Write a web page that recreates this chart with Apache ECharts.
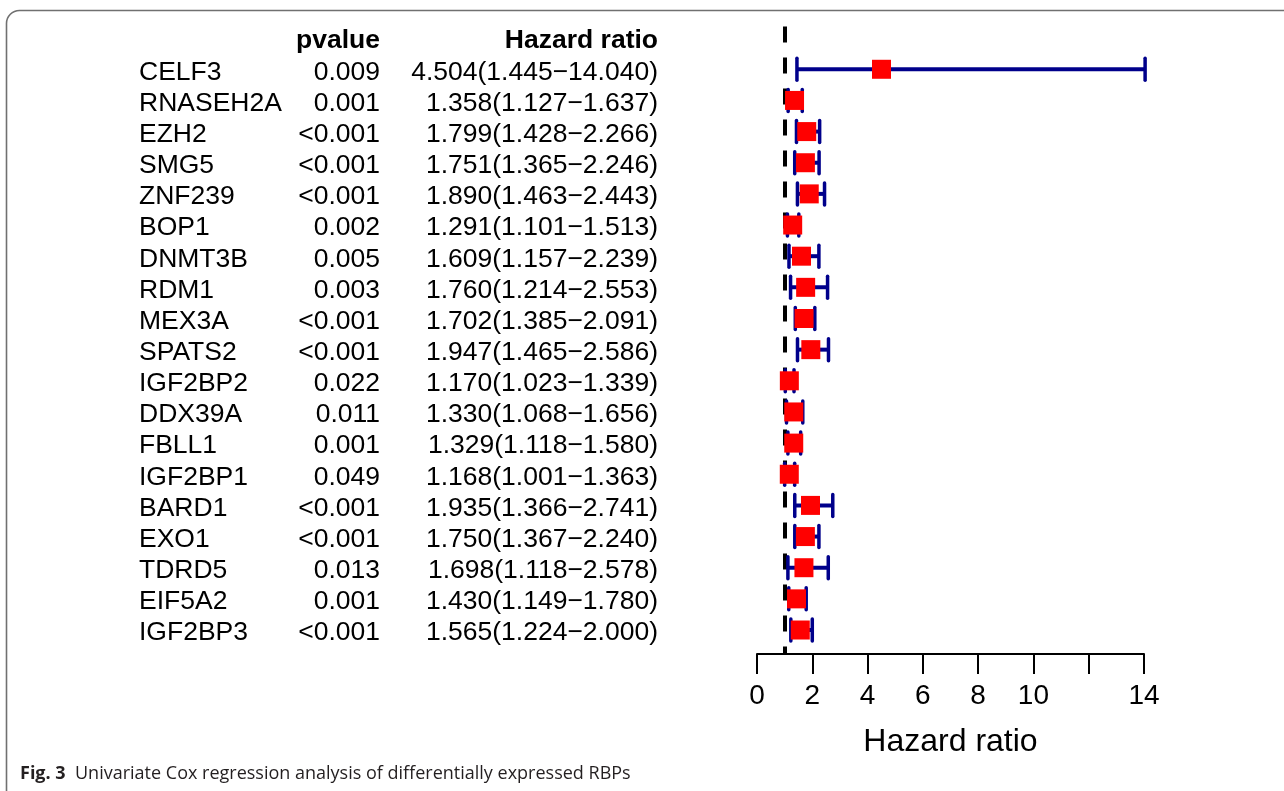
<!DOCTYPE html>
<html>
<head>
<meta charset="utf-8">
<script src="https://cdn.jsdelivr.net/npm/echarts@6/dist/echarts.min.js"></script>
<style>
html,body{margin:0;padding:0;background:#fff;}
#chart{width:1284px;height:791px;}
</style>
</head>
<body>
<div id="chart"></div>
<script>
const genes = ['CELF3','RNASEH2A','EZH2','SMG5','ZNF239','BOP1','DNMT3B','RDM1','MEX3A','SPATS2','IGF2BP2','DDX39A','FBLL1','IGF2BP1','BARD1','EXO1','TDRD5','EIF5A2','IGF2BP3'];
const pvalues = ['0.009','0.001','<0.001','<0.001','<0.001','0.002','0.005','0.003','<0.001','<0.001','0.022','0.011','0.001','0.049','<0.001','<0.001','0.013','0.001','<0.001'];
const hr = [4.504,1.358,1.799,1.751,1.890,1.291,1.609,1.760,1.702,1.947,1.170,1.330,1.329,1.168,1.935,1.750,1.698,1.430,1.565];
const hrLow = [1.445,1.127,1.428,1.365,1.463,1.101,1.157,1.214,1.385,1.465,1.023,1.068,1.118,1.001,1.366,1.367,1.118,1.149,1.224];
const hrHigh = [14.040,1.637,2.266,2.246,2.443,1.513,2.239,2.553,2.091,2.586,1.339,1.656,1.580,1.363,2.741,2.240,2.578,1.780,2.000];
const refLine = 1;
const xTicks = [0,2,4,6,8,10,12,14];
const xTickLabels = [0,2,4,6,8,10,14];
const headers = ['pvalue','Hazard ratio'];
const caption = ['Fig. 3','Univariate Cox regression analysis of differentially expressed RBPs'];

const FONT = '"Liberation Sans", Arial, Helvetica, sans-serif';
const rowOf = i => i + 1;
const hrText = hr.map((v,i)=> v.toFixed(3) + '(' + hrLow[i].toFixed(3) + '\u2212' + hrHigh[i].toFixed(3) + ')');

const COL_GENE = 139, COL_P = 380, COL_HR = 658;
const yAxisBase = {type:'value', inverse:true, min:-0.37, max:19.77, show:false};

function textSeries(xPos, texts, align, bold, row) {
  return {
    type:'scatter', xAxisIndex:1, yAxisIndex:1, symbolSize:0, silent:true,
    itemStyle:{opacity:1},
    data: texts.map((t,i)=>({value:[xPos, row ? row(i) : rowOf(i)], name:t})),
    label:{show:true, position:'inside', formatter: p => p.name, align: align,
      verticalAlign:'middle', offset:[0,3], color:'#000', opacity:1, fontSize:26.5,
      fontFamily:FONT, fontWeight: bold ? 'bold' : 'normal'},
    z:5
  };
}

const chart = echarts.init(document.getElementById('chart'));
chart.setOption({
  animation:false,
  backgroundColor:'#fff',
  grid:[
    {left:757, right:140, top:26.6, bottom:137},
    {left:0, right:0, top:26.6, bottom:137}
  ],
  xAxis:[
    {type:'value', gridIndex:0, min:0, max:14, interval:2, position:'bottom',
     axisLine:{show:true, onZero:false, lineStyle:{color:'#000', width:2}},
     axisTick:{show:true, length:20, lineStyle:{color:'#000', width:2}, customValues:xTicks},
     axisLabel:{color:'#000', fontSize:28, fontFamily:FONT, margin:28, customValues:xTickLabels},
     splitLine:{show:false},
     name:'Hazard ratio', nameLocation:'middle', nameGap:72,
     nameTextStyle:{color:'#000', fontSize:32, fontFamily:FONT}
    },
    {type:'value', gridIndex:1, min:0, max:1284, show:false}
  ],
  yAxis:[
    Object.assign({gridIndex:0}, yAxisBase),
    Object.assign({gridIndex:1}, yAxisBase)
  ],
  series:[
    {
      type:'custom', xAxisIndex:0, yAxisIndex:0, z:3,
      data: genes.map((g,i)=>[hrLow[i], hrHigh[i], rowOf(i)]),
      renderItem:(params, api)=>{
        const a = api.coord([api.value(0), api.value(2)]);
        const b = api.coord([api.value(1), api.value(2)]);
        const h = 11, col = '#00008B';
        return {type:'group', children:[
          {type:'line', shape:{x1:a[0], y1:a[1], x2:b[0], y2:b[1]}, style:{stroke:col, lineWidth:4}},
          {type:'line', shape:{x1:a[0], y1:a[1]-h, x2:a[0], y2:a[1]+h}, style:{stroke:col, lineWidth:3.5, lineCap:'round'}},
          {type:'line', shape:{x1:b[0], y1:b[1]-h, x2:b[0], y2:b[1]+h}, style:{stroke:col, lineWidth:3.5, lineCap:'round'}}
        ]};
      }
    },
    {
      type:'scatter', xAxisIndex:0, yAxisIndex:0, z:4,
      symbol:'rect', symbolSize:19,
      itemStyle:{color:'#FF0000', opacity:1},
      data: hr.map((v,i)=>[v, rowOf(i)]),
      markLine:{
        silent:true, symbol:'none', z:1,
        label:{show:false},
        lineStyle:{color:'#000', width:4, type:[16,15], opacity:1},
        data:[{xAxis:refLine}]
      }
    },
    textSeries(COL_GENE, genes, 'left', false),
    textSeries(COL_P, pvalues, 'right', false),
    textSeries(COL_HR, hrText, 'right', false),
    textSeries(COL_P, [headers[0]], 'right', true, ()=>0),
    textSeries(COL_HR, [headers[1]], 'right', true, ()=>0)
  ],
  graphic:[
    {type:'rect', shape:{x:6.5, y:10.5, width:1400, height:800, r:13},
     style:{fill:'none', stroke:'#707070', lineWidth:1.6}, silent:true, z:-1},
    {type:'text', left:20, top:765,
     style:{text:'{b|' + caption[0] + '}  ' + caption[1],
       font:'18px "Open Sans", sans-serif', fill:'#231f20',
       rich:{b:{fontWeight:'bold', fontSize:18, fontFamily:'"Open Sans", sans-serif', fill:'#231f20'}}}}
  ]
});
</script>
</body>
</html>
